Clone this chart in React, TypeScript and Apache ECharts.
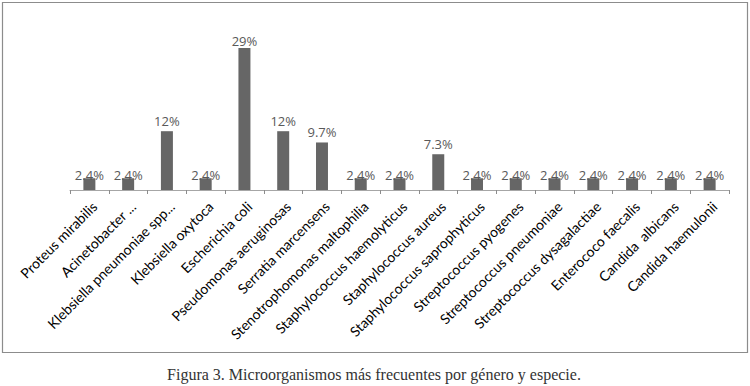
import React, { useEffect, useRef } from "react";
import * as echarts from "echarts";

const categories = [
  "Proteus mirabilis",
  "Acinetobacter ...",
  "Klebsiella pneumoniae spp...",
  "Klebsiella oxytoca",
  "Escherichia coli",
  "Pseudomonas aeruginosas",
  "Serratia marcensens",
  "Stenotrophomonas maltophilia",
  "Staphylococcus haemolyticus",
  "Staphylococcus aureus",
  "Staphylococcus saprophyticus",
  "Streptococcus pyogenes",
  "Streptococcus pneumoniae",
  "Streptococcus dysagalactiae",
  "Enterococo faecalis",
  "Candida  albicans",
  "Candida haemulonii",
];

const values = [2.4, 2.4, 12, 2.4, 29, 12, 9.7, 2.4, 2.4, 7.3, 2.4, 2.4, 2.4, 2.4, 2.4, 2.4, 2.4];

const caption = "Figura 3. Microorganismos más frecuentes por género y especie.";

export default function App() {
  const ref = useRef<HTMLDivElement>(null);
  useEffect(() => {
    if (!ref.current) return;
    const chart = echarts.init(ref.current, null, { renderer: "svg" });
    const data = values.map((v) => ({
      value: v,
      label: { distance: v < 3 ? -3 : v > 20 ? 0 : 4 },
    }));
    chart.setOption({
      animation: false,
      backgroundColor: "#ffffff",
      grid: { left: 70, right: 21, top: 18.5, height: 171.5, containLabel: false },
      graphic: [
        {
          type: "rect",
          shape: { x: 2.5, y: 2.5, width: 745, height: 350 },
          style: { fill: "none", stroke: "#8c8c8c", lineWidth: 1.2 },
          z: -1,
        },
        {
          type: "text",
          x: 374,
          y: 374,
          style: {
            text: caption,
            font: '16px "Liberation Serif", "DejaVu Serif", serif',
            fill: "#333333",
            align: "center",
            verticalAlign: "middle",
          },
        },
      ],
      xAxis: {
        type: "category",
        data: categories,
        boundaryGap: true,
        axisLine: { show: true, lineStyle: { color: "#a6a6a6", width: 1 } },
        axisTick: { show: true, alignWithLabel: false, length: 4, lineStyle: { color: "#8c8c8c" } },
        axisLabel: {
          interval: 0,
          rotate: 45,
          margin: 9,
          verticalAlign: "top",
          color: "#000000",
          fontSize: 14,
          fontFamily: 'Lato, "Open Sans", sans-serif',
        },
      },
      yAxis: {
        type: "value",
        min: 0,
        max: 35,
        show: false,
        splitLine: { show: false },
      },
      series: [
        {
          type: "bar",
          data,
          barWidth: 12,
          itemStyle: { color: "#666666" },
          label: {
            show: true,
            position: "top",
            formatter: (p: any) => `${p.value}%`,
            color: "#595959",
            fontSize: 13,
            fontFamily: '"Open Sans", "Noto Sans", sans-serif',
          },
        },
      ],
    });
    return () => chart.dispose();
  }, []);
  return (
    <div
      ref={ref}
      style={{ position: "fixed", left: 0, top: 0, width: 750, height: 386 }}
    />
  );
}
